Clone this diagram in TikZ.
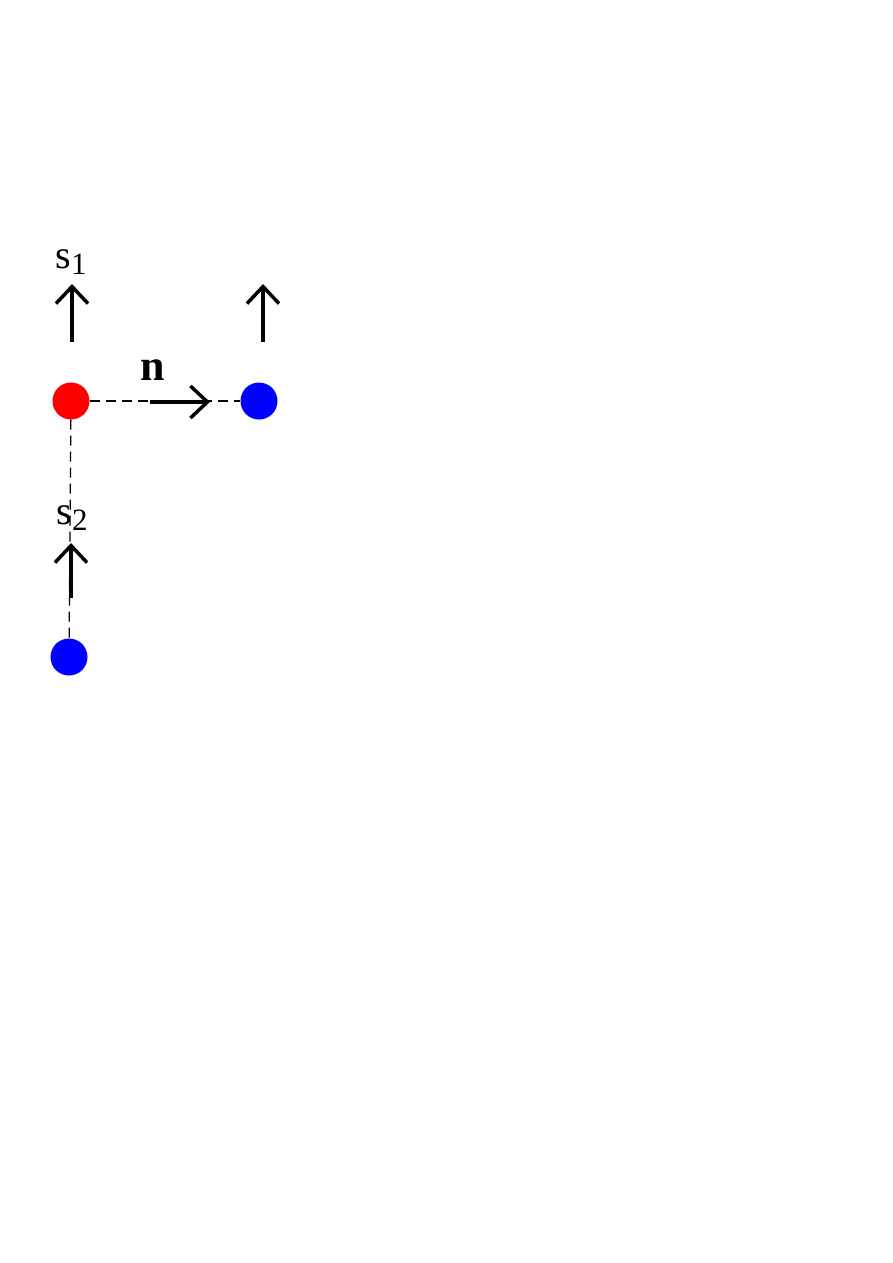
\documentclass[tikz,border=0pt]{standalone}
\usepackage{fontspec}
\setmainfont{Liberation Serif}
\usetikzlibrary{arrows.meta}
\begin{document}
\begin{tikzpicture}[x=1pt,y=-1pt,
  atom/.style={circle,inner sep=0pt,minimum size=37pt,draw=none},
  spinarrow/.style={line width=3.5pt,-{Straight Barb[length=17pt,width=32pt,line width=3.5pt]}},
  bond/.style={line width=1.3pt,dash pattern=on 10pt off 6pt},
  lbl/.style={inner sep=0pt,font=\fontsize{40}{40}\selectfont}]
\useasboundingbox (0,0) rectangle (893,1263);
\node[atom,fill=red] (r) at (71,401) {};
\node[atom,fill=blue] (b1) at (259,401) {};
\node[atom,fill=blue] (b2) at (69,657) {};
\draw[bond] (r) -- (b1);
\draw[bond] (r) -- (b2);
\coordinate (a1s) at (72,342); \coordinate (a1e) at (72,284);
\coordinate (a2s) at (263,342); \coordinate (a2e) at (263,284);
\coordinate (a3s) at (71,598); \coordinate (a3e) at (71,543);
\coordinate (ns) at (150,402); \coordinate (ne) at (210,402);
\draw[spinarrow] (a1s) -- (a1e);
\draw[spinarrow] (a2s) -- (a2e);
\draw[spinarrow] (a3s) -- (a3e);
\draw[spinarrow] (ns) -- (ne);
\node[lbl] (s1) at (71,262) {s\raisebox{-0.3ex}{\fontsize{31}{31}\selectfont 1}};
\node[lbl] (s2) at (72,518) {s\raisebox{-0.3ex}{\fontsize{31}{31}\selectfont 2}};
\node[lbl,font=\fontsize{44}{44}\selectfont\bfseries] (n) at (153,370) {n};
\end{tikzpicture}
\end{document}
